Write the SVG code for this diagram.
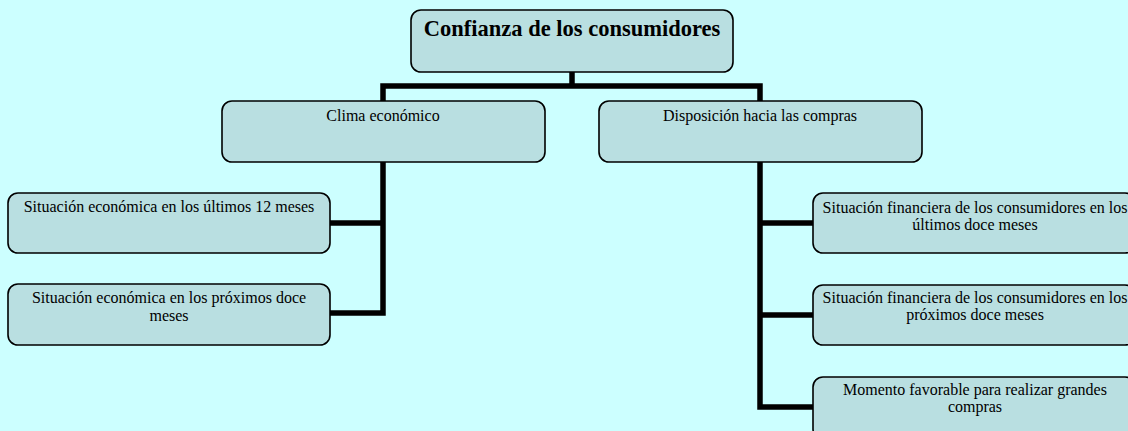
<svg xmlns="http://www.w3.org/2000/svg" width="1128" height="431" viewBox="0 0 1128 431">
<style>
.box{fill:#b9dfe1;stroke:#000;stroke-width:1.6}
.t{font-family:"Liberation Serif","Times New Roman",serif;font-size:16px;fill:#000;text-anchor:middle}
.title{font-family:"Liberation Serif","Times New Roman",serif;font-size:22.5px;font-weight:bold;fill:#000;text-anchor:middle}
.c{fill:none;stroke:#000;stroke-width:5.5;stroke-linecap:square;stroke-linejoin:miter}
</style>
<rect width="1128" height="431" fill="#ccffff"/>
<g id="connectors">
<path class="c" d="M572,72 V86 M383,86 H760 M383,86 V101 M760,86 V101"/>
<path class="c" d="M383,162 V313 M330,223 H383 M330,313 H383"/>
<path class="c" d="M760,162 V407 M760,223 H813 M760,315 H813 M760,407 H813"/>
</g>
<g id="n0"><rect class="box" x="411" y="10" width="322" height="62" rx="10"/><text class="title" x="572" y="36">Confianza de los consumidores</text></g>
<g id="n1"><rect class="box" x="222" y="101" width="323" height="61" rx="10"/><text class="t" x="383" y="121">Clima económico</text></g>
<g id="n2"><rect class="box" x="599" y="101" width="323" height="61" rx="10"/><text class="t" x="760" y="121">Disposición hacia las compras</text></g>
<g id="n3"><rect class="box" x="8" y="193" width="322" height="60" rx="10"/><text class="t" x="169" y="212">Situación económica en los últimos 12 meses</text></g>
<g id="n4"><rect class="box" x="8" y="284" width="322" height="61" rx="10"/><text class="t" x="169" y="303">Situación económica en los próximos doce</text><text class="t" x="169" y="321">meses</text></g>
<g id="n5"><rect class="box" x="813" y="193" width="322" height="60" rx="10"/><text class="t" x="975" y="213">Situación financiera de los consumidores en los</text><text class="t" x="975" y="230">últimos doce meses</text></g>
<g id="n6"><rect class="box" x="813" y="285" width="322" height="60" rx="10"/><text class="t" x="975" y="303">Situación financiera de los consumidores en los</text><text class="t" x="975" y="320">próximos doce meses</text></g>
<g id="n7"><rect class="box" x="813" y="377" width="322" height="62" rx="10"/><text class="t" x="975" y="395">Momento favorable para realizar grandes</text><text class="t" x="975" y="412">compras</text></g>
</svg>
